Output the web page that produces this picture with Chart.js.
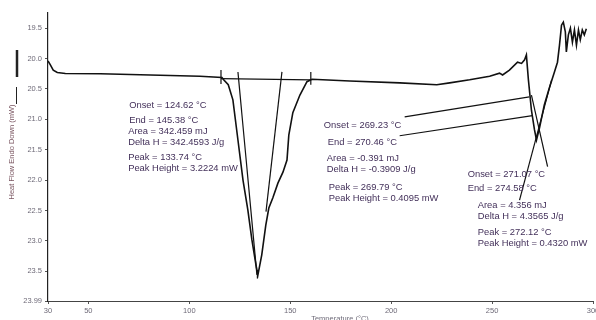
<!DOCTYPE html>
<html>
<head>
<meta charset="utf-8">
<script src="https://cdn.jsdelivr.net/npm/chart.js@4.4.1/dist/chart.umd.min.js"></script>
<style>
  html, body { margin: 0; padding: 0; background: #fff; }
  #wrap { width: 596px; height: 320px; }
</style>
</head>
<body>
<div id="wrap"><canvas id="dsc"></canvas></div>
<script>
/* ==== DATA ==== */
// DSC trace: temperature (°C) and heat flow (mW), endo down
const curveT = [30, 31.1, 32.6, 34.6, 38.6, 55.9, 80.6, 105.3, 116.2, 116.8, 119.3, 121.6, 124.1, 126.6, 129.0, 131.0, 133.0, 134.0,
  135.9, 137.9, 139.4, 141.4, 143.9, 146.4, 148.4, 149.3, 151.3, 154.8, 158.3, 160.8, 179.5, 204.3, 222.6, 229.0, 238.9, 248.8,
  253.7, 255.2, 258.6, 262.6, 264.6, 266.1, 267.0, 268.0, 269.5, 271.0, 272.0, 273.5, 275.9, 278.4, 280.9, 282.4, 283.4, 284.4,
  285.3, 286.3, 286.8, 287.8, 288.8, 289.8, 290.8, 291.8, 292.8, 293.7, 294.7, 295.7, 296.7];
const curveH = [20.04, 20.10, 20.19, 20.23, 20.245, 20.25, 20.27, 20.29, 20.31, 20.34, 20.43, 20.68, 21.34, 22.00, 22.49, 22.98, 23.39, 23.56,
  23.23, 22.74, 22.46, 22.29, 22.05, 21.87, 21.67, 21.26, 20.89, 20.60, 20.38, 20.34, 20.37, 20.40, 20.43, 20.40, 20.35, 20.29,
  20.24, 20.27, 20.19, 20.06, 20.08, 20.02, 19.94, 20.35, 20.85, 21.17, 21.34, 21.14, 20.76, 20.48, 20.22, 20.06, 19.78, 19.45,
  19.40, 19.56, 19.89, 19.61, 19.50, 19.73, 19.53, 19.78, 19.53, 19.69, 19.53, 19.61, 19.51];

// analysis construction lines (tangents, baselines, markers): [t1, h1, t2, h2]
const constructionLines = [
  [124.1, 20.22, 133.5, 23.56],   // onset tangent, main peak
  [145.9, 20.22, 138.0, 22.52],   // end tangent, main peak
  [115.7, 20.33, 160.2, 20.35],   // integration baseline
  [115.7, 20.19, 115.7, 20.42],   // baseline marker
  [160.2, 20.22, 160.2, 20.43],   // baseline marker
  [133.74, 23.48, 133.74, 23.62], // peak marker
  [206.7, 20.96, 268.5, 20.63],
  [204.2, 21.27, 270.0, 20.94],
  [263.6, 22.33, 279.5, 20.35],
  [269.5, 20.60, 277.5, 21.78]
];

const xTicks = [30, 50, 100, 150, 200, 250, 300];
const yTicks = [19.5, 20.0, 20.5, 21.0, 21.5, 22.0, 22.5, 23.0, 23.5, 23.99];

// result labels, anchored in data coordinates
const resultLabels = [
  ["Onset = 124.62 °C", 70.2, 20.775], ["End = 145.38 °C", 70.2, 21.01], ["Area = 342.459 mJ", 69.7, 21.207],
  ["Delta H = 342.4593 J/g", 69.7, 21.388], ["Peak = 133.74 °C", 69.7, 21.635], ["Peak Height = 3.2224 mW", 69.7, 21.816],
  ["Onset = 269.23 °C", 166.6, 21.104], ["End = 270.46 °C", 168.6, 21.388], ["Area = -0.391 mJ", 168.1, 21.651],
  ["Delta H = -0.3909 J/g", 168.1, 21.832], ["Peak = 269.79 °C", 169.1, 22.128], ["Peak Height = 0.4095 mW", 169.1, 22.309],
  ["Onset = 271.07 °C", 237.9, 21.914], ["End = 274.58 °C", 237.9, 22.145], ["Area = 4.356 mJ", 242.9, 22.424],
  ["Delta H = 4.3565 J/g", 242.9, 22.605], ["Peak = 272.12 °C", 242.9, 22.868], ["Peak Height = 0.4320 mW", 242.9, 23.049]
];

/* ==== CHART ==== */
const FONT = "'Liberation Sans', Arial, sans-serif";
const TICK_COLOR = "#6e6a78";

const datasets = [{
  data: curveT.map((t, i) => ({ x: t, y: curveH[i] })),
  borderColor: "#111", borderWidth: 1.6, pointRadius: 0, tension: 0, showLine: true
}];
constructionLines.forEach(l => datasets.push({
  data: [{ x: l[0], y: l[1] }, { x: l[2], y: l[3] }],
  borderColor: "#111", borderWidth: 1.2, pointRadius: 0, showLine: true
}));

const decorPlugin = {
  id: "decor",
  afterDatasetsDraw(chart) {
    const { ctx, scales: { x, y } } = chart;
    ctx.save();
    ctx.font = "9.4px " + FONT;
    ctx.fillStyle = "#43305a";
    ctx.textBaseline = "middle";
    resultLabels.forEach(([txt, t, h]) => ctx.fillText(txt, x.getPixelForValue(t), y.getPixelForValue(h)));

    // axis titles
    ctx.fillStyle = "#7a5560";
    ctx.font = "7.5px " + FONT;
    ctx.save();
    ctx.translate(12, 152);
    ctx.rotate(-Math.PI / 2);
    ctx.textAlign = "center";
    ctx.fillText("Heat Flow Endo Down (mW)", 0, 0);
    ctx.restore();
    ctx.strokeStyle = "#222";
    ctx.lineWidth = 1;
    ctx.beginPath(); ctx.moveTo(16.5, 87); ctx.lineTo(16.5, 104); ctx.stroke();
    ctx.lineWidth = 2.5;
    ctx.beginPath(); ctx.moveTo(17, 50); ctx.lineTo(17, 77); ctx.stroke();

    ctx.fillStyle = "#6e6a78";
    ctx.textAlign = "center";
    ctx.fillText("Temperature (°C)", 340, 319);
    ctx.restore();
  }
};

new Chart(document.getElementById("dsc"), {
  type: "scatter",
  data: { datasets },
  options: {
    responsive: true,
    maintainAspectRatio: false,
    animation: false,
    layout: { padding: { left: 0, right: 3, top: 13, bottom: 0 } },
    plugins: { legend: { display: false }, tooltip: { enabled: false } },
    scales: {
      x: {
        type: "linear", min: 30, max: 300,
        afterBuildTicks: s => { s.ticks = xTicks.map(v => ({ value: v })); },
        afterFit: s => { s.height = 19; s.paddingRight = 0; s.paddingLeft = 0; },
        ticks: { color: TICK_COLOR, font: { size: 7.5, family: FONT }, padding: 2, maxRotation: 0 },
        grid: { display: true, drawOnChartArea: false, tickLength: 3, color: "#555" },
        border: { display: true, color: "#444", width: 1 }
      },
      y: {
        type: "linear", min: 19.25, max: 23.99, reverse: true,
        afterBuildTicks: s => { s.ticks = yTicks.map(v => ({ value: v })); },
        afterFit: s => { s.width = 48; s.paddingTop = 0; s.paddingBottom = 0; },
        ticks: {
          color: TICK_COLOR, font: { size: 7.5, family: FONT }, padding: 3,
          callback: v => (v === 23.99 ? "23.99" : v.toFixed(1))
        },
        grid: { display: true, drawOnChartArea: false, tickLength: 3, color: "#555" },
        border: { display: true, color: "#222", width: 1.2 }
      }
    }
  },
  plugins: [decorPlugin]
});
</script>
</body>
</html>
